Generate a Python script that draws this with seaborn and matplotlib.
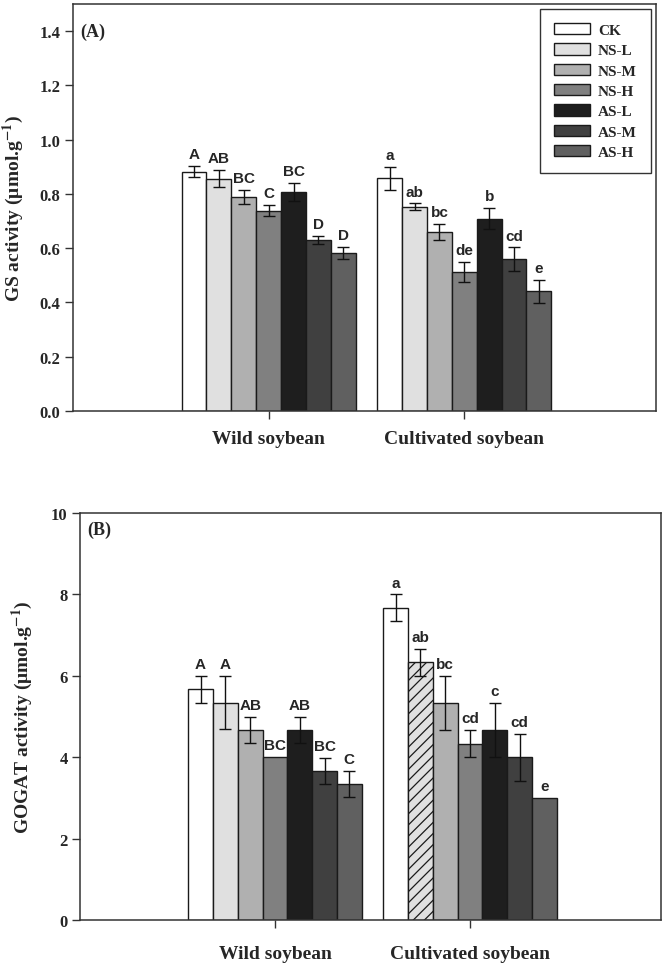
import numpy as np
import pandas as pd
import matplotlib
matplotlib.use("Agg")
import matplotlib.pyplot as plt
from matplotlib.container import BarContainer
import seaborn as sns

species = ["Wild soybean", "Cultivated soybean"]
treatments = ["CK", "NS-L", "NS-M", "NS-H", "AS-L", "AS-M", "AS-H"]
colors = ["#ffffff", "#e0e0e0", "#b0b0b0", "#808080", "#1e1e1e", "#404040", "#606060"]

# GS activity (panel A)
gs_wild = [0.882, 0.856, 0.788, 0.738, 0.807, 0.629, 0.583]
gs_wild_err = [0.020, 0.032, 0.026, 0.020, 0.033, 0.015, 0.021]
gs_cult = [0.857, 0.752, 0.659, 0.511, 0.709, 0.559, 0.441]
gs_cult_err = [0.042, 0.013, 0.029, 0.037, 0.038, 0.044, 0.043]
gs_wild_letters = ["A", "AB", "BC", "C", "BC", "D", "D"]
gs_cult_letters = ["a", "ab", "bc", "de", "b", "cd", "e"]

# GOGAT activity (panel B)
go_wild = [5.67, 5.34, 4.67, 4.00, 4.67, 3.66, 3.34]
go_wild_err = [0.33, 0.65, 0.33, 0.0, 0.33, 0.33, 0.33]
go_cult = [7.67, 6.33, 5.33, 4.33, 4.67, 4.00, 3.00]
go_cult_err = [0.33, 0.33, 0.67, 0.33, 0.67, 0.58, 0.0]
go_wild_letters = ["A", "A", "AB", "BC", "AB", "BC", "C"]
go_cult_letters = ["a", "ab", "bc", "cd", "c", "cd", "e"]

sns.set_style("ticks")
plt.rcParams["font.family"] = ["Liberation Serif", "DejaVu Serif"]
plt.rcParams["mathtext.fontset"] = "stix"
plt.rcParams["hatch.linewidth"] = 0.9

SERIF = ["Liberation Serif", "DejaVu Serif"]
SANS = ["Liberation Sans", "DejaVu Sans"]


def make_df(wild, cult):
    rows = []
    for s, vals in zip(species, [wild, cult]):
        for t, v in zip(treatments, vals):
            rows.append({"Species": s, "Treatment": t, "value": v})
    return pd.DataFrame(rows)


fig = plt.figure(figsize=(6.67, 9.70), dpi=100)
axA = fig.add_axes([73 / 667, 1 - 412 / 970, (656 - 73) / 667, (412 - 5) / 970])
axB = fig.add_axes([80 / 667, 1 - 921 / 970, (661 - 80) / 667, (921 - 514) / 970])


def draw(ax, wild, cult, werr, cerr, wlet, clet, ylim, yticks, fmt, ylabel,
         panel, panel_y, label_x, xpad, hatch_cell=None, legend=False):
    df = make_df(wild, cult)
    sns.barplot(data=df, x="Species", y="value", hue="Treatment",
                order=species, hue_order=treatments, palette=colors,
                width=0.89, saturation=1, errorbar=None,
                edgecolor="#1a1a1a", linewidth=1.0, ax=ax, legend=legend)
    errs = [werr, cerr]
    lets = [wlet, clet]
    bar_conts = [c for c in ax.containers if isinstance(c, BarContainer)]
    for hi, cont in enumerate(bar_conts):
        for si, patch in enumerate(cont.patches):
            xc = patch.get_x() + patch.get_width() / 2
            h = patch.get_height()
            e = errs[si][hi]
            if e > 0:
                ax.errorbar(xc, h, yerr=e, fmt="none", ecolor="#111111",
                            elinewidth=1.0, capsize=4.5, capthick=1.0, zorder=5)
            ax.annotate(lets[si][hi], xy=(xc, h + e), xytext=(0, 3.5),
                        textcoords="offset points", ha="center", va="bottom",
                        fontsize=11, fontweight="bold", family=SANS)
            if hatch_cell is not None and (si, hi) == hatch_cell:
                patch.set_hatch("///")
    ax.set_xlim(-1.0, 1.98)
    ax.set_ylim(*ylim)
    ax.set_yticks(yticks)
    ax.set_yticklabels([fmt.format(v) for v in yticks])
    ax.set_xlabel("")
    ax.set_ylabel(ylabel, fontsize=14, fontweight="bold", family=SERIF)
    ax.yaxis.set_label_coords(label_x, 0.5)
    ax.tick_params(axis="y", direction="out", length=6, width=1, labelsize=12,
                   pad=3, color="#333333")
    ax.tick_params(axis="x", direction="out", length=6, width=1, labelsize=14,
                   pad=xpad, color="#333333")
    for lab in ax.get_yticklabels() + ax.get_xticklabels():
        lab.set_fontweight("bold")
        lab.set_family(SERIF)
    for sp in ax.spines.values():
        sp.set_visible(True)
        sp.set_color("#333333")
        sp.set_linewidth(1.1)
    ax.text(0.013, panel_y, panel, transform=ax.get_yaxis_transform(),
            fontsize=13, fontweight="bold", family=SERIF, ha="left", va="center")


draw(axA, gs_wild, gs_cult, gs_wild_err, gs_cult_err, gs_wild_letters,
     gs_cult_letters, (0, 1.5), np.arange(0, 1.41, 0.2), "{:.1f}",
     r"GS activity (μmol.g$^{\mathbf{-1}}$)", "(A)", 1.4, -0.081, 8,
     legend=True)

handles, labels = axA.get_legend_handles_labels()
leg = axA.legend(handles, labels, loc="upper right", frameon=True,
                 fancybox=False, edgecolor="#333333", framealpha=1,
                 prop={"family": SERIF, "weight": "bold", "size": 11},
                 handlelength=2.4, handleheight=0.75, labelspacing=0.42,
                 handletextpad=0.5, borderpad=0.9, borderaxespad=0.35)
leg.get_frame().set_linewidth(1.0)
for h in leg.legend_handles:
    h.set_edgecolor("#1a1a1a")
    h.set_linewidth(1.0)

draw(axB, go_wild, go_cult, go_wild_err, go_cult_err, go_wild_letters,
     go_cult_letters, (0, 10), np.arange(0, 11, 2), "{:d}",
     r"GOGAT activity (μmol.g$^{\mathbf{-1}}$)", "(B)", 9.6, -0.077, 12,
     hatch_cell=(1, 1))

fig.savefig("out.png", dpi=100)
